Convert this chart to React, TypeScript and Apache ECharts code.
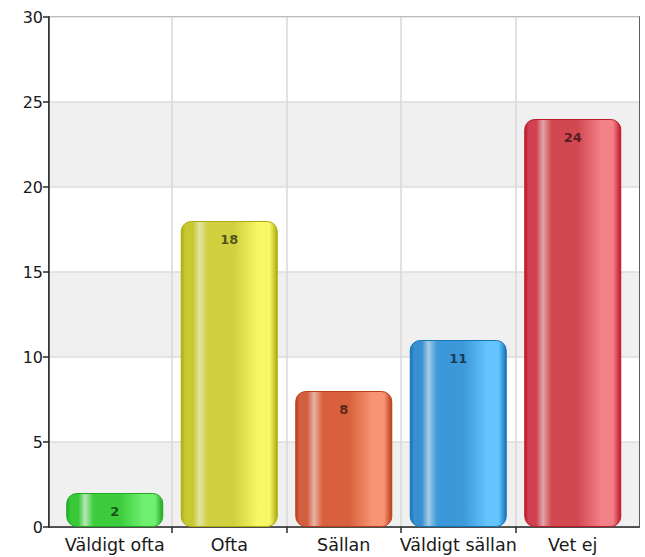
import React, { useEffect, useRef } from "react";
import * as echarts from "echarts";

const categories = ["Väldigt ofta", "Ofta", "Sällan", "Väldigt sällan", "Vet ej"];
const values = [2, 18, 8, 11, 24];
const yTicks = { min: 0, max: 30, interval: 5 };

// gradient stops per bar: [edge, base, highlight, mid, light, edgeRight]
const palettes = [
  ["#22a822", "#38c838", "#b4e8b4", "#3ccc3c", "#70f070", "#22a822"],
  ["#acac10", "#c8c830", "#e2e2a4", "#d0d040", "#f8f866", "#acac10"],
  ["#b84018", "#d06040", "#e8b4a4", "#d8603c", "#f89474", "#b84018"],
  ["#1474b4", "#3890d0", "#a4cce4", "#3c98d8", "#64c4ff", "#1474b4"],
  ["#bc1828", "#d04050", "#e2a4aa", "#d24850", "#f48088", "#bc1828"],
];

function grad(p: string[]) {
  return new echarts.graphic.LinearGradient(0, 0, 1, 0, [
    { offset: 0, color: p[0] },
    { offset: 0.04, color: p[1] },
    { offset: 0.12, color: p[1] },
    { offset: 0.19, color: p[2] },
    { offset: 0.28, color: p[3] },
    { offset: 0.55, color: p[3] },
    { offset: 0.8, color: p[4] },
    { offset: 0.92, color: p[4] },
    { offset: 1, color: p[5] },
  ]);
}

export default function App() {
  const ref = useRef<HTMLDivElement>(null);
  useEffect(() => {
    if (!ref.current) return;
    const chart = echarts.init(ref.current, null, { renderer: "svg" });
    const font = "DejaVu Sans, Verdana, sans-serif";
    const inner = (c: string) => ["transparent", c, c, c, c];
    chart.setOption({
      animation: false,
      backgroundColor: "#ffffff",
      grid: [
        {
          left: 49,
          top: 17,
          width: 590,
          height: 510,
          show: true,
          borderColor: "#2a2a2a",
          borderWidth: 1.5,
          backgroundColor: "#ffffff",
        },
        { left: 57.5, top: 17, width: 572.5, height: 510 },
        { left: 57.5, top: 527, width: 572.5, height: 6 },
      ],
      xAxis: [
        {
          type: "value",
          gridIndex: 0,
          min: 0,
          max: 1,
          axisLine: { show: true, lineStyle: { color: "#2a2a2a", width: 1.5 } },
          axisTick: { show: false },
          axisLabel: { show: false },
          splitLine: { show: false },
        },
        {
          type: "category",
          gridIndex: 1,
          data: categories,
          axisLine: { show: false },
          axisTick: { show: false },
          splitLine: {
            show: true,
            lineStyle: { color: inner("#d8d8d8"), width: 1.5 },
          },
          axisLabel: {
            color: "#1a1a1a",
            fontFamily: font,
            fontSize: 17.5,
            margin: 9,
            interval: 0,
            hideOverlap: false,
          },
        },
        {
          type: "category",
          gridIndex: 2,
          data: categories,
          axisLine: { show: false },
          axisTick: { show: false },
          axisLabel: { show: false },
          splitLine: {
            show: true,
            lineStyle: { color: inner("#2a2a2a"), width: 1.5 },
          },
        },
      ],
      yAxis: [
        {
          type: "value",
          gridIndex: 0,
          min: yTicks.min,
          max: yTicks.max,
          interval: yTicks.interval,
          axisLine: { show: true, lineStyle: { color: "#2a2a2a", width: 1.5 } },
          axisTick: { show: true, length: 6, lineStyle: { color: "#2a2a2a", width: 1.5 } },
          axisLabel: { color: "#1a1a1a", fontFamily: font, fontSize: 16, margin: 6 },
          splitLine: { show: true, lineStyle: { color: "#dcdcdc", width: 1.5 } },
          splitArea: { show: true, areaStyle: { color: ["#f0f0f0", "#ffffff"] } },
        },
        {
          type: "value",
          gridIndex: 1,
          min: yTicks.min,
          max: yTicks.max,
          interval: yTicks.interval,
          show: false,
        },
        {
          type: "value",
          gridIndex: 2,
          min: 0,
          max: 1,
          show: false,
        },
      ],
      series: [
        {
          type: "bar",
          xAxisIndex: 1,
          yAxisIndex: 1,
          barWidth: 97,
          data: values.map((v, i) => ({
            value: v,
            itemStyle: {
              color: grad(palettes[i]),
              borderRadius: 10,
              borderColor: palettes[i][0],
              borderWidth: 1,
            },
          })),
          label: {
            show: true,
            position: "insideTop",
            distance: 12,
            fontFamily: font,
            fontWeight: "bold",
            fontSize: 13,
            color: "rgba(0,0,0,0.62)",
          },
        },
      ],
    });
    return () => chart.dispose();
  }, []);
  return (
    <div
      ref={ref}
      style={{ position: "absolute", left: 0, top: 0, width: 645, height: 557 }}
    />
  );
}
